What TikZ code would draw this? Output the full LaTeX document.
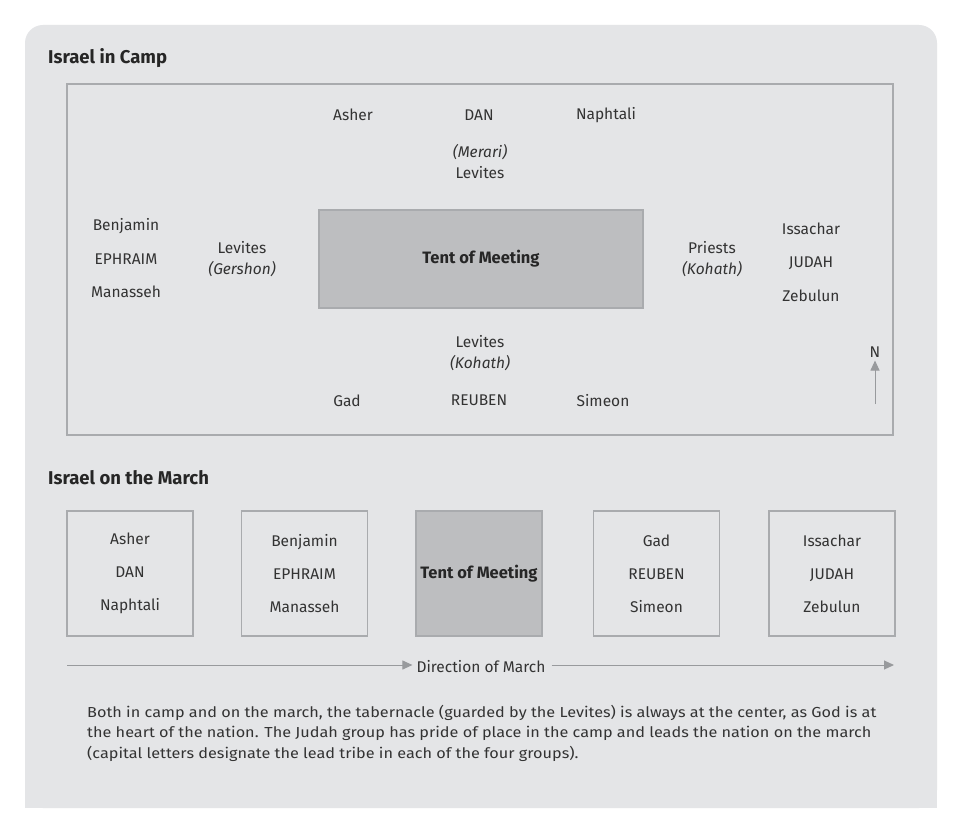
\documentclass[tikz,border=0pt]{standalone}
\usepackage{fontspec}
\setmainfont{Fira Sans}
\newfontfamily\captionfont[FakeStretch=1.12]{Fira Sans}
\usetikzlibrary{arrows.meta}
\definecolor{panelgray}{HTML}{E4E5E7}
\definecolor{linegray}{HTML}{A9ABAE}
\definecolor{tentgray}{HTML}{BDBEC0}
\definecolor{inkgray}{HTML}{333333}

\begin{document}
\begin{tikzpicture}[x=1pt, y=-1pt,
		label/.style={text=inkgray, font=\fontsize{15.5}{21}\selectfont, align=center, inner sep=0pt},
		tribes/.style={text=inkgray, font=\fontsize{15.5}{33.5}\selectfont, align=center, inner sep=0pt},
		heading/.style={text=black!85, font=\fontsize{18.5}{22}\selectfont\bfseries, anchor=west, inner sep=0pt},
		marchbox/.style={draw=linegray, line width=1.2pt, minimum width=126pt, minimum height=125pt, text=inkgray, font=\fontsize{15.5}{33}\selectfont, align=center},
		guide/.style={draw=linegray!90!black, line width=1pt, -{Triangle[width=9pt,length=10pt]}}]
			%%%%% START %%%%%
			
			\useasboundingbox (0, 0) rectangle (963, 834);
			\fill[white] (0, 0) rectangle (963, 834);
			\fill[panelgray, rounded corners=18pt] (25, 25) rectangle (937, 808);
			\fill[panelgray] (25, 300) rectangle (937, 808);
			
			%% camp
			\node[heading] (campTitle) at (48, 58) {Israel in Camp};
			\draw[linegray, line width=1.2pt] (67, 84) rectangle (893, 435);
			
			\node[draw=linegray, line width=1.2pt, fill=tentgray, minimum width=324pt, minimum height=98pt, font=\fontsize{16.5}{20}\selectfont\bfseries, text=black!85] (tentCamp) at (481, 259) {Tent of Meeting};
			
			\node[label] (asher) at (353, 115) {Asher};
			\node[label] (dan) at (479, 115) {DAN};
			\node[label] (naphtali) at (606, 115) {Naphtali};
			\node[label] (merari) at (480, 161.5) {\itshape(Merari)\\Levites};
			
			\node[tribes] (west) at (126, 258.5) {Benjamin\\EPHRAIM\\Manasseh};
			\node[label] (gershon) at (242, 259) {Levites\\\itshape(Gershon)};
			
			\node[label] (priests) at (712, 259) {Priests\\\itshape(Kohath)};
			\node[tribes] (east) at (811, 262) {Issachar\\JUDAH\\Zebulun};
			
			\node[label] (kohath) at (480, 353) {Levites\\\itshape(Kohath)};
			\node[label] (gad) at (347, 400.5) {Gad};
			\node[label] (reuben) at (479, 400.5) {REUBEN};
			\node[label] (simeon) at (603, 400.5) {Simeon};
			
			\node[label] (north) at (875, 352) {N};
			\coordinate (northTail) at (875, 404);
			\draw[guide] (northTail) -- ([yshift=-3pt]north.south);
			
			%% march
			\node[heading] (marchTitle) at (48, 478) {Israel on the March};
			
			\node[marchbox] (groupDan) at (130, 573.5) {Asher\\DAN\\Naphtali};
			\node[marchbox] (groupEphraim) at (304.5, 573.5) {Benjamin\\EPHRAIM\\Manasseh};
			\node[marchbox, fill=tentgray, font=\fontsize{16.5}{20}\selectfont\bfseries, text=black!85] (tentMarch) at (479, 573.5) {Tent of Meeting};
			\node[marchbox] (groupReuben) at (656.5, 573.5) {Gad\\REUBEN\\Simeon};
			\node[marchbox] (groupJudah) at (832, 573.5) {Issachar\\JUDAH\\Zebulun};
			
			\node[label] (direction) at (481, 666.5) {Direction of March};
			\coordinate (marchStart) at (67, 665);
			\coordinate (marchEnd) at (894, 665);
			\draw[guide] (marchStart) -- ([xshift=-4pt]direction.west |- marchStart);
			\draw[guide] ([xshift=6pt]direction.east |- marchStart) -- (marchEnd);
			
			%% caption
			\node[anchor=north west, inner sep=0pt, align=left, text=inkgray, font=\captionfont\fontsize{14.5}{20.5}\selectfont] (caption) at (87, 705) {Both in camp and on the march, the tabernacle (guarded by the Levites) is always at the center, as God is at\\the heart of the nation. The Judah group has pride of place in the camp and leads the nation on the march\\(capital letters designate the lead tribe in each of the four groups).};
			
			%%%%% END %%%%%
		\end{tikzpicture}
\end{document}
